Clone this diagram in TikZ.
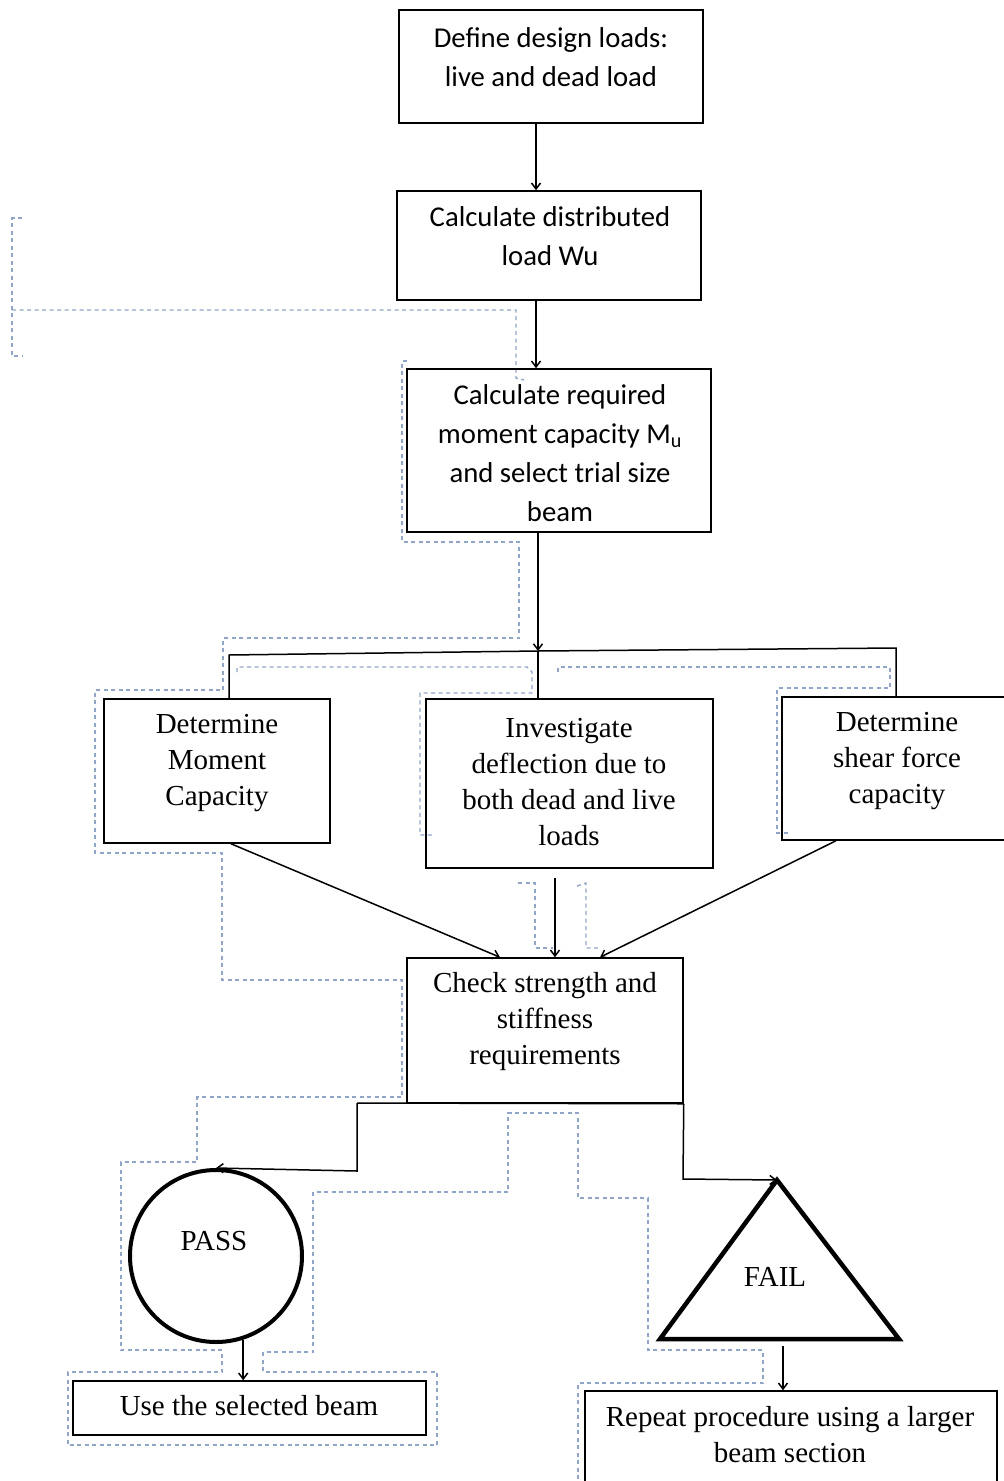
\documentclass[tikz,border=0pt]{standalone}
\usepackage{fontspec}
\setmainfont{Liberation Serif}
\newfontfamily\sansf{Carlito}
\usetikzlibrary{arrows.meta}
\definecolor{dotc}{RGB}{145,165,200}
\tikzset{
  box/.style={draw, line width=1.5pt, inner sep=0pt, rectangle},
  stxt/.style={align=center, inner sep=0pt, font=\sansf\fontsize{28.7}{39}\selectfont},
  rtxt/.style={align=center, inner sep=0pt, font=\fontsize{29}{36}\selectfont},
  conn/.style={line width=1.5pt},
  arr/.style={line width=1.5pt, -{Straight Barb[length=6pt,width=9pt]}},
  dots/.style={draw=dotc, line width=1.4pt, dash pattern=on 4pt off 3.5pt},
}
\begin{document}
\begin{tikzpicture}[x=1pt,y=-1pt]
\useasboundingbox (0,0) rectangle (1004,1481);
\clip (0,0) rectangle (1004,1481);
\fill[white] (0,0) rectangle (1004,1481);

% dotted canvas artefacts
\draw[dots] (22,218) -- (12,218) -- (12,356) -- (22,356);
\draw[dots] (12,310) -- (516,310) -- (516,378) -- (524,380);
\draw[dots] (407,361) -- (402,361) -- (402,542) -- (519,542) -- (519,638) -- (223,638) -- (223,690) -- (95,690) -- (95,853) -- (222,853) -- (222,980) -- (402,980) -- (402,1097) -- (197,1097) -- (197,1162) -- (121,1162) -- (121,1350) -- (222,1350) -- (222,1372) -- (68,1372) -- (68,1445) -- (437,1445) -- (437,1372) -- (263,1372) -- (263,1352) -- (313,1352) -- (313,1192) -- (508,1192) -- (508,1113) -- (578,1113) -- (578,1198) -- (648,1198) -- (648,1350) -- (763,1350) -- (763,1383) -- (578,1383) -- (578,1490);
\draw[dots] (237,672) -- (237,667) -- (527,667) -- (532,672) -- (532,693) -- (420,693) -- (420,835) -- (433,835);
\draw[dots] (558,672) -- (558,667) -- (890,667) -- (890,688) -- (777,688) -- (777,833) -- (789,833);
\draw[dots] (518,883) -- (535,883) -- (535,948) -- (553,948);
\draw[dots] (577,886) -- (586,883) -- (586,948) -- (600,948);

% boxes
\node[box, minimum width=304pt, minimum height=113pt] (b1) at (551,66.5) {};
\node[stxt] (t1) at (551,57) {Define design loads:\\live and dead load};

\node[box, minimum width=304pt, minimum height=109pt] (b2) at (549,245.5) {};
\node[stxt] (t2) at (550,236) {Calculate distributed\\load Wu};

\node[box, minimum width=304pt, minimum height=163pt] (b3) at (559,450.5) {};
\node[stxt] (t3) at (560,453) {Calculate required\\moment capacity M\textsubscript{u}\\and select trial size\\beam};

\node[box, minimum width=226pt, minimum height=144pt] (b4) at (217,771) {};
\node[rtxt] (t4) at (217,763) {Determine\\Moment\\Capacity};

\node[box, minimum width=287pt, minimum height=169pt] (b5) at (569.5,783.5) {};
\node[rtxt] (t5) at (569,782) {Investigate\\deflection due to\\both dead and live\\loads};

\node[box, minimum width=230pt, minimum height=143pt] (b6) at (897,768.5) {};
\node[rtxt] (t6) at (897,761) {Determine\\shear force\\capacity};

\node[box, minimum width=276pt, minimum height=145pt] (b7) at (545,1030.5) {};
\node[rtxt] (t7) at (545,1022) {Check strength and\\stiffness\\requirements};

\node[circle, draw, line width=4pt, minimum size=172pt, inner sep=0pt] (pass) at (216,1256) {};
\node[rtxt] (tp) at (214,1241) {PASS};

\coordinate (fa) at (777,1180);
\coordinate (fl) at (660,1339);
\coordinate (fr) at (899,1339);
\draw[line width=4.5pt, line join=miter] (fa) -- (fr) -- (fl) -- cycle;
\node[rtxt] (tf) at (775,1277) {FAIL};

\node[box, minimum width=353pt, minimum height=54pt] (b8) at (249.5,1408) {};
\node[rtxt] (t8) at (249,1406) {Use the selected beam};

\node[box, minimum width=412pt, minimum height=109pt] (b9) at (791,1445.5) {};
\node[rtxt] (t9) at (790,1435) {Repeat procedure using a larger\\beam section};

% connectors
\draw[arr] (b1.south -| 536,0) -- (b2.north -| 536,0);
\draw[arr] (b2.south -| 536,0) -- (b3.north -| 536,0);
\coordinate (j) at (538,651);
\coordinate (jl) at (229,655);
\coordinate (jr) at (896,648);
\draw[arr] (b3.south -| j) -- (j);
\draw[conn] (j) -- (jl) -- (b4.north -| jl);
\draw[conn] (j) -- (b5.north -| j);
\draw[conn] (j) -- (jr) -- (b6.north -| jr);

\draw[arr] (b4.south -| 231,0) -- (b7.north -| 500,0);
\coordinate (m5) at (555,878);
\draw[arr] (m5) -- (b7.north -| m5);
\draw[arr] (b6.south -| 836,0) -- (b7.north -| 600,0);

\coordinate (pl) at (357,1103);
\coordinate (pc) at (357,1171);
\coordinate (fc) at (683,1179);
\draw[conn] (pl) -- (b7.south east);
\draw[arr] (pl) -- (pc) -- (pass.north);
\draw[arr] (b7.south east) -- (fc) -- (fa);

\draw[arr] (pass.288) -- (b8.north -| pass.288);
\coordinate (fb) at (783,1346);
\draw[arr] (fb) -- (b9.north -| fb);
\end{tikzpicture}
\end{document}
